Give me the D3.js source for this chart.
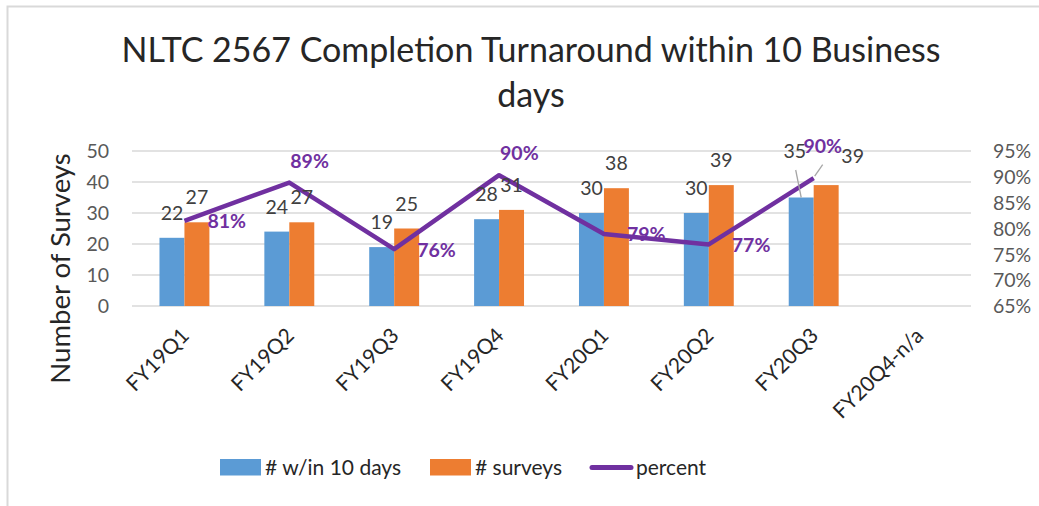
<!DOCTYPE html>
<html>
<head>
<meta charset="utf-8">
<script src="https://cdn.jsdelivr.net/npm/d3@7"></script>
<style>
  html, body { margin: 0; padding: 0; background: #fff; }
  svg { display: block; font-family: Lato, "Noto Sans", sans-serif; }
</style>
</head>
<body>
<svg id="chart" width="1039" height="506"></svg>
<script>
// Quarterly survey counts and on-time percentage
const quarters = ["FY19Q1", "FY19Q2", "FY19Q3", "FY19Q4", "FY20Q1", "FY20Q2", "FY20Q3", "FY20Q4-n/a"];
const withinTenDays = [22, 24, 19, 28, 30, 30, 35, null];
const totalSurveys = [27, 27, 25, 31, 38, 39, 39, null];
const percentOnTime = [0.8148, 0.8889, 0.76, 0.9032, 0.7895, 0.7692, 0.8974, null];

const countTicks = [0, 10, 20, 30, 40, 50];
const percentTicks = [0.65, 0.70, 0.75, 0.80, 0.85, 0.90, 0.95];

const seriesNames = ["# w/in 10 days", "# surveys", "percent"];
const titleLines = ["NLTC 2567 Completion Turnaround within 10 Business", "days"];
const yAxisTitle = "Number of Surveys";

const colors = { within: "#5B9BD5", total: "#ED7D31", pct: "#7030A0" };

const svg = d3.select("#chart");

// chart frame
svg.append("path")
  .attr("d", "M7.5,506 V6.5 H1039")
  .attr("fill", "none").attr("stroke", "#d9d9d9").attr("stroke-width", 2);

const plot = { left: 132, right: 971, top: 151, bottom: 306 };

const x = d3.scaleBand().domain(quarters).range([plot.left, plot.right]).padding(0);
const yCount = d3.scaleLinear().domain([0, 50]).range([plot.bottom, plot.top]);
const yPct = d3.scaleLinear().domain([0.65, 0.95]).range([plot.bottom, plot.top]);
const barW = x.bandwidth() * 0.238;

// title
svg.append("text")
  .attr("x", 531).attr("y", 62)
  .attr("text-anchor", "middle")
  .attr("font-size", 34).attr("fill", "#262626")
  .selectAll("tspan").data(titleLines).join("tspan")
  .attr("x", 531).attr("dy", (d, i) => i === 0 ? 0 : 45)
  .text(d => d);

// gridlines
svg.append("g").selectAll("line").data(countTicks).join("line")
  .attr("x1", plot.left).attr("x2", plot.right)
  .attr("y1", d => yCount(d)).attr("y2", d => yCount(d))
  .attr("stroke", "#d9d9d9").attr("stroke-width", 1.5);

// left axis
const leftAxis = d3.axisLeft(yCount).tickValues(countTicks).tickSize(0).tickPadding(23);
const gL = svg.append("g").attr("transform", `translate(${plot.left},0)`).call(leftAxis);
gL.select(".domain").remove();
gL.selectAll("text").attr("font-size", 19.5).attr("fill", "#595959")
  .attr("font-family", "Lato, sans-serif").attr("dy", "0.35em");

// right axis
const rightAxis = d3.axisRight(yPct).tickValues(percentTicks).tickSize(0).tickPadding(22)
  .tickFormat(d3.format(".0%"));
const gR = svg.append("g").attr("transform", `translate(${plot.right},0)`).call(rightAxis);
gR.select(".domain").remove();
gR.selectAll("text").attr("font-size", 19.5).attr("fill", "#595959")
  .attr("font-family", "Lato, sans-serif").attr("dy", "0.35em");

// left axis title
svg.append("text")
  .attr("transform", `translate(70,${(plot.top + plot.bottom) / 2 + 40}) rotate(-90)`)
  .attr("text-anchor", "middle")
  .attr("font-size", 27.5).attr("fill", "#262626")
  .text(yAxisTitle);

// category labels
const xAxis = d3.axisBottom(x).tickSize(0).tickPadding(0);
const gX = svg.append("g").attr("transform", `translate(0,${plot.bottom})`).call(xAxis);
gX.select(".domain").remove();
gX.selectAll("text")
  .attr("font-size", 21).attr("fill", "#262626").attr("font-family", "Lato, sans-serif")
  .attr("text-anchor", "end")
  .attr("dy", 0)
  .attr("transform", "translate(6,31) rotate(-45)");

// bars
const rows = quarters.map((q, i) => ({ q, w: withinTenDays[i], t: totalSurveys[i], p: percentOnTime[i] }));
const withData = rows.filter(r => r.w != null);

svg.append("g").selectAll("rect").data(withData).join("rect")
  .attr("x", d => x(d.q) + x.bandwidth() / 2 - barW)
  .attr("width", barW)
  .attr("y", d => yCount(d.w))
  .attr("height", d => yCount(0) - yCount(d.w))
  .attr("fill", colors.within);

svg.append("g").selectAll("rect").data(withData).join("rect")
  .attr("x", d => x(d.q) + x.bandwidth() / 2)
  .attr("width", barW)
  .attr("y", d => yCount(d.t))
  .attr("height", d => yCount(0) - yCount(d.t))
  .attr("fill", colors.total);

// percent line
const line = d3.line()
  .x(d => x(d.q) + x.bandwidth() / 2)
  .y(d => yPct(d.p));
svg.append("path").datum(withData)
  .attr("d", line)
  .attr("fill", "none").attr("stroke", colors.pct)
  .attr("stroke-width", 4.5).attr("stroke-linejoin", "round");

// bar value labels (last quarter's labels are pulled away with leader lines)
const barLabelShift = {
  "FY20Q3": { w: [-6.5, -21.5, true], t: [26.5, -4, false] }
};
const labelsG = svg.append("g").attr("font-size", 19.5).attr("fill", "#404040");
withData.forEach(d => {
  const cx = x(d.q) + x.bandwidth() / 2;
  [["w", cx - barW / 2, d.w], ["t", cx + barW / 2, d.t]].forEach(([k, bx, v]) => {
    const top = yCount(v);
    const s = (barLabelShift[d.q] || {})[k] || [0, 0, false];
    const lx = bx + s[0], ly = top - 18 + s[1];
    if (s[2]) {
      svg.append("line")
        .attr("x1", lx + 1).attr("y1", ly + 12)
        .attr("x2", bx).attr("y2", top)
        .attr("stroke", "#a6a6a6").attr("stroke-width", 1.3);
    }
    labelsG.append("text").attr("x", lx).attr("y", ly)
      .attr("text-anchor", "middle").text(v);
  });
});

// percent labels
const pctPlacement = ["right", "above", "right", "above", "right", "right", "leader", null];
const pctFmt = d3.format(".0%");
const pctG = svg.append("g").attr("font-size", 19.5).attr("font-weight", "bold").attr("fill", colors.pct);
withData.forEach((d, i) => {
  const px = x(d.q) + x.bandwidth() / 2, py = yPct(d.p);
  const place = pctPlacement[i];
  let lx, ly, anchor = "start";
  if (place === "right") { lx = px + 23; ly = py + 7.5; }
  else if (place === "above") { lx = px + 1; ly = py - 15; }
  else {
    lx = px + 9; ly = py - 25.5; anchor = "middle";
    svg.append("line")
      .attr("x1", px + 9).attr("y1", ly + 12)
      .attr("x2", px + 1).attr("y2", py - 2)
      .attr("stroke", "#a6a6a6").attr("stroke-width", 1.3);
  }
  pctG.append("text").attr("x", lx).attr("y", ly).attr("text-anchor", anchor).text(pctFmt(d.p));
});

// legend
const legend = svg.append("g").attr("font-size", 21).attr("fill", "#262626");
const legendItems = [
  { name: seriesNames[0], x: 220, type: "rect", color: colors.within },
  { name: seriesNames[1], x: 430, type: "rect", color: colors.total },
  { name: seriesNames[2], x: 590, type: "line", color: colors.pct }
];
legendItems.forEach(it => {
  if (it.type === "rect") {
    legend.append("rect").attr("x", it.x).attr("y", 459).attr("width", 41).attr("height", 16.5).attr("fill", it.color);
    legend.append("text").attr("x", it.x + 45).attr("y", 475).text(it.name);
  } else {
    legend.append("line").attr("x1", it.x + 2).attr("x2", it.x + 41).attr("y1", 467.5).attr("y2", 467.5)
      .attr("stroke", it.color).attr("stroke-width", 5).attr("stroke-linecap", "round");
    legend.append("text").attr("x", it.x + 46).attr("y", 475).text(it.name);
  }
});
</script>
</body>
</html>
